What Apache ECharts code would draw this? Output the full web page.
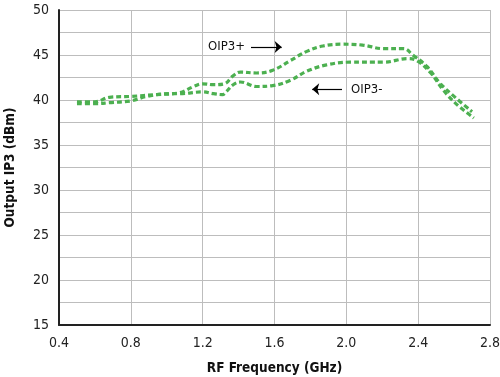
<!DOCTYPE html>
<html><head><meta charset="utf-8">
<script src="https://cdn.jsdelivr.net/npm/echarts@6/dist/echarts.min.js"></script>
<style>html,body{margin:0;padding:0;background:#fff}#c{width:500px;height:377px}</style>
</head><body><div id="c"></div>
<script>
const oip3PlusFreq = [0.50,0.60,0.68,0.80,0.94,1.07,1.15,1.20,1.26,1.32,1.37,1.41,1.50,1.59,1.69,1.78,1.87,1.98,2.09,2.21,2.32,2.37,2.45,2.52,2.60,2.70];
const oip3PlusVal  = [39.8,39.8,40.3,40.4,40.6,40.8,41.5,41.8,41.7,41.8,42.7,43.1,43.0,43.3,44.4,45.4,46.0,46.2,46.1,45.7,45.7,45.0,43.7,41.9,40.4,38.7];
const oip3MinusFreq = [0.50,0.61,0.68,0.80,0.89,1.02,1.07,1.20,1.26,1.31,1.33,1.37,1.41,1.50,1.59,1.69,1.78,1.89,2.02,2.21,2.34,2.39,2.47,2.54,2.61,2.71];
const oip3MinusVal  = [39.6,39.6,39.7,39.9,40.4,40.7,40.7,40.9,40.7,40.6,40.9,41.7,42.0,41.5,41.6,42.2,43.2,43.9,44.2,44.2,44.6,44.4,43.0,41.1,39.6,38.0];
const xTicks = [0.4,0.8,1.2,1.6,2.0,2.4,2.8];
const yTicks = [15,20,25,30,35,40,45,50];

const font = '"DejaVu Sans Condensed","Liberation Sans Narrow","Roboto",sans-serif';
const green = '#4cb050';
const chart = echarts.init(document.getElementById('c'), null, {renderer:'canvas'});
const lineStyle = {color: green, width: 3.2, type: [5,3]};
chart.setOption({
  animation:false,
  grid:{left:59,right:10,top:10,bottom:52,containLabel:false,outerBoundsMode:'none'},
  xAxis:{type:'value',min:xTicks[0],max:xTicks[xTicks.length-1],interval:0.4,
    name:'RF Frequency (GHz)',nameLocation:'middle',nameGap:36,
    nameTextStyle:{fontFamily:font,fontWeight:'bold',fontSize:13.5,color:'#111'},
    axisLine:{lineStyle:{color:'#222',width:2}},axisTick:{show:false},
    axisLabel:{fontFamily:font,fontSize:14,color:'#222',margin:11,formatter:v=>v.toFixed(1)},
    splitLine:{show:true,lineStyle:{color:'#bdbdbd',width:1}}},
  yAxis:{type:'value',min:yTicks[0],max:yTicks[yTicks.length-1],interval:5,
    name:'Output IP3 (dBm)',nameLocation:'middle',nameGap:42,
    nameTextStyle:{fontFamily:font,fontWeight:'bold',fontSize:13.5,color:'#111'},
    axisLine:{show:true,lineStyle:{color:'#222',width:2}},axisTick:{show:false},
    axisLabel:{fontFamily:font,fontSize:14,color:'#222',margin:10},
    splitLine:{show:true,lineStyle:{color:'#bdbdbd',width:1}},
    minorTick:{show:false,splitNumber:2},
    minorSplitLine:{show:true,lineStyle:{color:'#bdbdbd',width:1}}},
  series:[
    {type:'line',name:'OIP3+',smooth:0.4,symbol:'none',lineStyle,
      data:oip3PlusFreq.map((f,i)=>[f,oip3PlusVal[i]]),
      markLine:{silent:true,symbol:['none','arrow'],symbolSize:[9,7],
        lineStyle:{color:'#000',width:1.2,type:'solid'},
        label:{show:true,position:'start',distance:6,formatter:'OIP3+',fontFamily:font,fontSize:13,color:'#111'},
        data:[[{coord:[1.469,45.9]},{coord:[1.64,45.9]}]]}},
    {type:'line',name:'OIP3-',smooth:0.4,symbol:'none',lineStyle,
      data:oip3MinusFreq.map((f,i)=>[f,oip3MinusVal[i]]),
      markLine:{silent:true,symbol:['none','arrow'],symbolSize:[9,7],
        lineStyle:{color:'#000',width:1.2,type:'solid'},
        label:{show:true,position:'start',distance:9,formatter:'OIP3-',fontFamily:font,fontSize:13,color:'#111'},
        data:[[{coord:[1.976,41.2]},{coord:[1.81,41.2]}]]}}
  ]
});
</script></body></html>
